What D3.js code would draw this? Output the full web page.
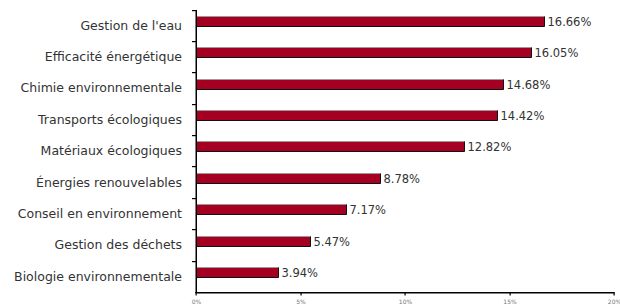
<!DOCTYPE html>
<html>
<head>
<meta charset="utf-8">
<script src="https://cdn.jsdelivr.net/npm/d3@7"></script>
<style>
  body { margin: 0; background: #fff; }
  text { font-family: "DejaVu Sans", sans-serif; }
</style>
</head>
<body>
<script>
const categories = [
  "Gestion de l'eau",
  "Efficacité énergétique",
  "Chimie environnementale",
  "Transports écologiques",
  "Matériaux écologiques",
  "Énergies renouvelables",
  "Conseil en environnement",
  "Gestion des déchets",
  "Biologie environnementale"
];
const values = [16.66, 16.05, 14.68, 14.42, 12.82, 8.78, 7.17, 5.47, 3.94];
const xTicks = [0, 5, 10, 15, 20];

const width = 620, height = 306;
const margin = {top: 9.5, right: 6, bottom: 14, left: 196};

const svg = d3.select("body").append("svg")
  .attr("width", width)
  .attr("height", height);

const x = d3.scaleLinear()
  .domain([0, 20])
  .range([margin.left, width - margin.right]);

const y = d3.scaleBand()
  .domain(categories)
  .range([margin.top, height - margin.bottom]);

const barH = 10;
const barOff = 6.3;

// bars
const bars = svg.append("g");
categories.forEach((c, i) => {
  const y0 = Math.round(y(c) + barOff) + 0.5;
  const x0 = x(0) + 1, x1 = Math.round(x(values[i])) + 0.5;
  bars.append("rect")
    .attr("x", x0)
    .attr("y", y0)
    .attr("width", x1 - x0)
    .attr("height", barH)
    .attr("fill", "#a50021");
  // light edge on top, dark on bottom and right
  bars.append("line")
    .attr("x1", x0).attr("x2", x1)
    .attr("y1", y0).attr("y2", y0)
    .attr("stroke", "#9a9a9a");
  bars.append("path")
    .attr("d", `M${x0},${y0 + barH}H${x1}V${y0}`)
    .attr("fill", "none")
    .attr("stroke", "#111");
  bars.append("text")
    .attr("x", x1 + 3)
    .attr("y", y0 + barH / 2)
    .attr("dy", "0.36em")
    .style("font-size", "11.5px")
    .attr("fill", "#333")
    .text(values[i].toFixed(2) + "%");
});

// axes drawn as filled rects so they stay crisp
const axX = Math.round(x(0));
const axY = Math.round(height - margin.bottom);
const axes = svg.append("g").attr("fill", "#000");
axes.append("rect")
  .attr("x", axX - 0.5).attr("y", Math.round(margin.top))
  .attr("width", 1.5).attr("height", axY - Math.round(margin.top) + 1);
axes.append("rect")
  .attr("x", axX - 0.5).attr("y", axY)
  .attr("width", Math.round(x(20)) - axX + 1).attr("height", 1.5);
// ticks at band edges on the y axis
axes.selectAll("rect.bt").data(categories).join("rect")
  .attr("class", "bt")
  .attr("x", axX - 4).attr("y", d => Math.round(y(d)))
  .attr("width", 4).attr("height", 1.2);
// ticks on the x axis
axes.selectAll("rect.xt").data(xTicks).join("rect")
  .attr("class", "xt")
  .attr("x", d => Math.round(x(d)) - 0.5).attr("y", axY)
  .attr("width", 1.2).attr("height", 3.5);

svg.append("g").selectAll("text").data(categories).join("text")
  .attr("x", 182)
  .attr("y", d => y(d) + y.bandwidth() / 2)
  .attr("dy", "0.36em")
  .attr("text-anchor", "end")
  .style("font-size", "12.5px")
  .attr("fill", "#333")
  .text(d => d);

// x axis labels through d3 axis (its own lines hidden, drawn above)
const xAxis = svg.append("g")
  .attr("transform", `translate(0,${axY})`)
  .call(d3.axisBottom(x).tickValues(xTicks).tickSize(0).tickFormat(d => d + "%"));
xAxis.select(".domain").remove();
xAxis.selectAll(".tick text")
  .attr("y", 8)
  .style("font-family", "DejaVu Sans, sans-serif")
  .style("font-size", "6px")
  .attr("fill", "#777");
</script>
</body>
</html>
